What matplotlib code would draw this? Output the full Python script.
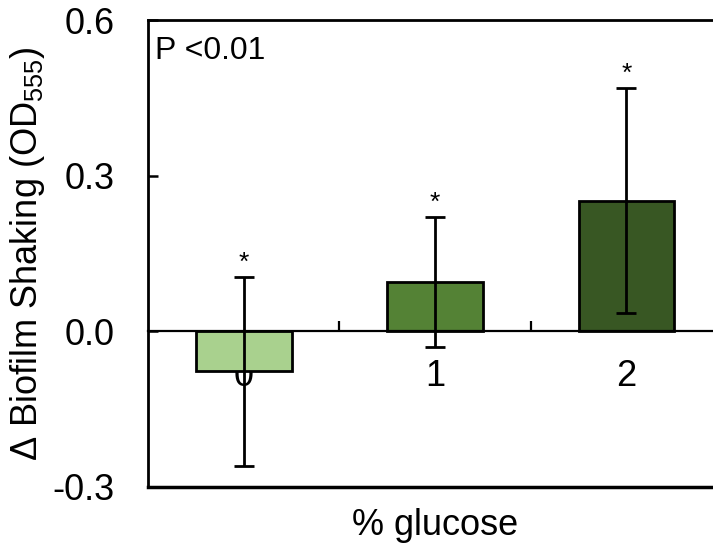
import numpy as np
import matplotlib.pyplot as plt

plt.rcParams['font.family'] = ['Liberation Sans', 'DejaVu Sans']
plt.rcParams['mathtext.fontset'] = 'custom'
plt.rcParams['mathtext.rm'] = 'Liberation Sans'

# change in shaking biofilm per glucose level
glucose = ['0', '1', '2']
delta_od = [-0.077, 0.095, 0.252]
sd = [0.182, 0.126, 0.217]
stars = ['*', '*', '*']
colors = ['#a9d18e', '#548235', '#385723']

fig = plt.figure(figsize=(7.13, 5.48), dpi=100)
ax = fig.add_axes([148 / 713, 61 / 548, 574 / 713, 467 / 548])

x = np.arange(len(glucose))
ax.bar(x, delta_od, width=0.5, color=colors, edgecolor='black', linewidth=2, zorder=2)
ax.errorbar(x, delta_od, yerr=sd, fmt='none', ecolor='black', elinewidth=2,
            capsize=7.5, capthick=2, zorder=3)

# significance marks over each error bar
for xi, v, e, s in zip(x, delta_od, sd, stars):
    ax.annotate(s, (xi, v + e), xytext=(0, 5), textcoords='offset points',
                ha='center', va='baseline', fontsize=19)

ax.set_xlim(-0.5, 2.5)
ax.set_ylim(-0.3, 0.6)
ax.set_yticks([-0.3, 0.0, 0.3, 0.6])
ax.set_yticklabels(['-0.3', '0.0', '0.3', '0.6'])
ax.tick_params(axis='y', direction='in', length=7, width=1.8, labelsize=26, pad=24)

# category axis sits on the zero line
ax.spines['bottom'].set_position(('data', 0))
ax.spines['bottom'].set_linewidth(1.6)
ax.set_xticks([0.5, 1.5])
ax.set_xticklabels([])
ax.tick_params(axis='x', which='major', direction='in', length=7, width=1.6)
ax.set_xticks(x, minor=True)
ax.set_xticklabels(glucose, minor=True)
ax.tick_params(axis='x', which='minor', length=0, labelsize=26, pad=20)
for lbl in ax.get_xticklabels(minor=True):
    lbl.set_zorder(5)

for side in ['left', 'top', 'right']:
    ax.spines[side].set_linewidth(2)
ax.axhline(-0.3, color='black', linewidth=2.5, clip_on=False, zorder=4)

ax.set_ylabel('Δ Biofilm Shaking (OD$_{555}$)', fontsize=26, labelpad=4)
ax.text(0.5, -0.045, '% glucose', transform=ax.transAxes, ha='center', va='top', fontsize=26)
ax.text(0.013, 0.965, 'P <0.01', transform=ax.transAxes, ha='left', va='top', fontsize=23)

fig.savefig('out.png', dpi=100)
